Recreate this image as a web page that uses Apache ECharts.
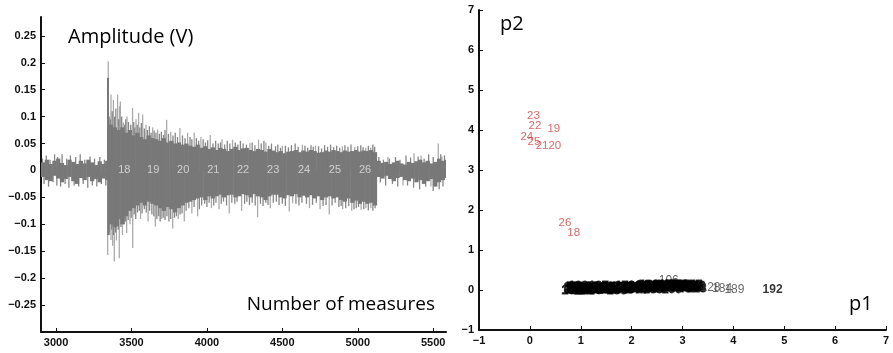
<!DOCTYPE html>
<html><head><meta charset="utf-8">
<script src="https://cdn.jsdelivr.net/npm/echarts@6/dist/echarts.min.js"></script>
<style>html,body{margin:0;padding:0;background:#fff}#c{width:893px;height:353px}</style>
</head><body><div id="c"></div>
<script>
// ---------- Left panel: acoustic signal (envelope per 25-sample bin) ----------
const binStart = 2900;
const binWidth = 25;
const coreHi = [
  0.015,0.020,0.012,0.018,0.022,0.014,0.010,0.020,0.016,0.012,0.018,0.013,0.020,0.015,0.010,0.017,0.012,0.018,
  0.085,0.080,0.075,0.080, 0.070,0.075,0.065,0.070, 0.062,0.058,0.065,0.060, 0.058,0.055,0.060,0.052,
  0.055,0.050,0.052,0.048, 0.050,0.046,0.044,0.048, 0.042,0.045,0.040,0.043, 0.038,0.042,0.040,0.036,
  0.040,0.044,0.038,0.041, 0.042,0.038,0.036,0.040, 0.038,0.035,0.040,0.037, 0.034,0.036,0.032,0.035,
  0.036,0.038,0.034,0.037, 0.035,0.038,0.036,0.033, 0.034,0.037,0.035,0.038, 0.036,0.034,0.037,0.035,
  0.036,0.038,0.035,0.037, 0.036,0.038,0.034,
  0.018,0.014,0.016,0.012,0.015,0.018,0.013,0.011,0.016,0.014,0.017,0.020,0.015,0.018,0.013,0.016,0.022,0.018,0.020
];
const coreLo = [
  -0.012,-0.018,-0.020,-0.010,-0.015,-0.022,-0.016,-0.012,-0.020,-0.025,-0.014,-0.018,-0.012,-0.020,-0.016,-0.022,-0.015,-0.018,
  -0.100,-0.105,-0.090,-0.100, -0.085,-0.075,-0.070,-0.065, -0.060,-0.065,-0.058,-0.062, -0.065,-0.070,-0.075,-0.068,
  -0.072,-0.078,-0.070,-0.065, -0.060,-0.058,-0.055,-0.052, -0.050,-0.055,-0.048,-0.052, -0.048,-0.045,-0.050,-0.046,
  -0.045,-0.050,-0.048,-0.044, -0.046,-0.050,-0.044,-0.048, -0.050,-0.055,-0.048,-0.045, -0.045,-0.050,-0.052,-0.046,
  -0.048,-0.044,-0.050,-0.047, -0.050,-0.046,-0.052,-0.048, -0.055,-0.050,-0.048,-0.052, -0.050,-0.055,-0.058,-0.052,
  -0.060,-0.056,-0.062,-0.058, -0.062,-0.060,-0.065,
  -0.012,-0.015,-0.010,-0.016,-0.020,-0.014,-0.012,-0.018,-0.020,-0.015,-0.022,-0.018,-0.025,-0.020,-0.016,-0.030,-0.022,-0.018,-0.014
];
// short excursions just beyond the envelope
const fringeUp = [
  [2910,0.022],[2935,0.028],[2960,0.020],[2990,0.030],[3010,0.025],[3040,0.030],[3070,0.022],[3095,0.028],[3130,0.025],[3160,0.030],
  [3190,0.020],[3225,0.026],[3255,0.022],[3290,0.025],[3320,0.020],
  [3352,0.100],[3360,0.095],[3372,0.110],[3388,0.100],[3396,0.115],[3415,0.095],[3435,0.100],[3455,0.085],[3462,0.095],[3480,0.090],
  [3495,0.085],[3515,0.090],[3522,0.080],[3538,0.085],[3555,0.080],[3565,0.088],[3585,0.078],[3605,0.075],[3618,0.082],[3630,0.070],
  [3650,0.074],[3662,0.070],[3685,0.068],[3698,0.072],[3712,0.066],[3722,0.075],[3745,0.068],[3775,0.065],[3790,0.070],[3805,0.062],
  [3838,0.065],[3855,0.060],[3888,0.062],[3900,0.058],[3930,0.060],[3945,0.055],[3975,0.058],[3990,0.052],[4005,0.056],[4040,0.050],
  [4058,0.055],[4075,0.050],[4090,0.052],[4118,0.048],[4135,0.055],[4152,0.050],[4188,0.052],[4205,0.048],[4222,0.055],[4240,0.050],
  [4262,0.048],[4300,0.052],[4318,0.047],[4360,0.050],[4378,0.055],[4410,0.046],[4428,0.050],[4455,0.045],[4470,0.048],[4488,0.042],
  [4520,0.046],[4540,0.043],[4560,0.047],[4585,0.050],[4605,0.044],[4650,0.046],[4668,0.042],[4690,0.047],[4705,0.044],[4740,0.045],
  [4760,0.041],[4780,0.047],[4800,0.044],[4820,0.048],[4840,0.043],[4860,0.046],[4880,0.042],[4915,0.047],[4935,0.044],[4955,0.048],
  [5000,0.045],[5020,0.047],[5035,0.043],[5070,0.046],[5100,0.048],[5112,0.044],
  [5140,0.025],[5170,0.020],[5210,0.022],[5250,0.025],[5280,0.020],[5320,0.028],[5350,0.024],[5400,0.026],[5440,0.022],[5470,0.030],
  [5500,0.025],[5550,0.030],[5575,0.028]
];
const fringeDown = [
  [2920,-0.025],[2950,-0.030],[2980,-0.022],[3005,-0.028],[3030,-0.030],[3060,-0.025],[3085,-0.032],[3120,-0.028],[3150,-0.030],[3180,-0.025],
  [3210,-0.032],[3240,-0.028],[3270,-0.030],[3300,-0.025],[3330,-0.028],
  [3352,-0.115],[3368,-0.110],[3380,-0.120],[3395,-0.115],[3412,-0.110],[3430,-0.105],[3452,-0.100],[3460,-0.095],[3478,-0.092],[3498,-0.088],
  [3518,-0.082],[3528,-0.090],[3540,-0.078],[3552,-0.075],[3570,-0.080],[3585,-0.072],[3598,-0.078],[3620,-0.075],[3635,-0.082],[3648,-0.085],
  [3668,-0.090],[3680,-0.085],[3690,-0.095],[3710,-0.088],[3722,-0.092],[3735,-0.085],[3748,-0.095],[3760,-0.090],[3785,-0.088],[3798,-0.085],
  [3822,-0.082],[3835,-0.080],[3862,-0.075],[3880,-0.070],[3915,-0.068],[3950,-0.072],[3965,-0.065],[3985,-0.062],[4000,-0.068],[4015,-0.060],
  [4045,-0.065],[4060,-0.060],[4095,-0.062],[4110,-0.058],[4130,-0.065],[4165,-0.060],[4185,-0.062],[4200,-0.058],[4250,-0.062],[4265,-0.058],
  [4282,-0.064],[4300,-0.060],[4320,-0.065],[4355,-0.062],[4372,-0.066],[4390,-0.060],[4405,-0.064],[4440,-0.060],[4460,-0.058],[4478,-0.064],
  [4500,-0.062],[4520,-0.066],[4590,-0.062],[4610,-0.065],[4630,-0.060],[4660,-0.062],[4700,-0.064],[4725,-0.060],[4770,-0.066],[4790,-0.064],
  [4830,-0.065],[4850,-0.060],[4875,-0.068],[4890,-0.066],[4920,-0.070],[4940,-0.066],[4975,-0.072],[4990,-0.070],[5005,-0.068],[5040,-0.072],
  [5070,-0.074],[5100,-0.075],[5115,-0.070],
  [5150,-0.022],[5185,-0.028],[5230,-0.025],[5265,-0.030],[5330,-0.028],[5370,-0.032],[5410,-0.035],[5450,-0.030],[5500,-0.038],[5540,-0.035],
  [5565,-0.030]
];
// isolated large excursions
const spikeUp = [
  [3346,0.203],[3364,0.141],[3380,0.131],[3408,0.141],[3420,0.119],[3426,0.128],[3446,0.089],[3470,0.100],
  [3507,0.116],[3530,0.095],[3547,0.107],[3574,0.104],[3596,0.085],[3640,0.080],[3673,0.076],[3733,0.094],
  [3760,0.072],[3821,0.079],[3872,0.070],[3916,0.070],[3960,0.062],[4022,0.066],[4100,0.058],[4170,0.057],
  [4285,0.051],[4342,0.057],[4391,0.052],[4500,0.046],[4633,0.048],[4720,0.046],[4898,0.045],[4980,0.044],
  [5053,0.042],[5086,0.042],[5200,0.025],[5373,0.032],[5420,0.028],[5534,0.050],[5558,0.026]
];
const spikeDown = [
  [3342,-0.157],[3356,-0.120],[3364,-0.129],[3375,-0.140],[3386,-0.169],[3400,-0.130],[3419,-0.163],[3440,-0.120],
  [3468,-0.116],[3490,-0.100],[3508,-0.144],[3560,-0.090],[3610,-0.095],[3658,-0.104],[3700,-0.090],[3773,-0.108],
  [3810,-0.090],[3850,-0.095],[3900,-0.080],[3938,-0.085],[4030,-0.070],[4080,-0.072],[4148,-0.080],[4230,-0.075],
  [4336,-0.087],[4420,-0.070],[4546,-0.076],[4568,-0.061],[4680,-0.070],[4750,-0.072],[4811,-0.082],[4900,-0.072],
  [4960,-0.075],[5022,-0.073],[5054,-0.070],[5087,-0.070],[5300,-0.028],[5485,-0.030],[5520,-0.028]
];
const darkSpikes = [[3344,0.172],[3346,-0.120],[3392,-0.106],[3410,-0.104]];
const segmentX = [3452,3644,3843,4042,4240,4439,4644,4849,5048];
const segmentNames = ['18','19','20','21','22','23','24','25','26'];
const leftXTicks = [3000,3500,4000,4500,5000,5500];
const leftYTicks = [-0.25,-0.2,-0.15,-0.1,-0.05,0,0.05,0.1,0.15,0.2,0.25];

// ---------- Right panel: p1 / p2 projection ----------
const redX = [0.07,0.10,0.47,-0.06,0.08,0.24,0.49,0.69,0.86];
const redY = [4.36,4.11,4.02,3.82,3.71,3.61,3.61,1.67,1.44];
const redNames = ['23','22','19','24','25','21','20','26','18'];
const clusterX = [0.78,0.82,0.85,0.88,0.91,0.94,0.97,1.00,1.04,1.07,1.10,1.14,1.18,1.22,1.25,1.29,1.33,1.37,1.41,1.46,
  1.50,1.55,1.59,1.64,1.68,1.73,1.78,1.83,1.87,1.92,1.97,2.02,2.06,2.11,2.16,2.21,2.26,2.30,2.35,2.40,
  2.44,2.49,2.54,2.59,2.63,2.68,2.73,2.77,2.82,2.87,2.92,2.96,3.01,3.06,3.11,3.16,3.21,3.26,3.31,
  0.80,0.95,1.12,1.35,1.52,1.71,1.90,2.08,2.24,2.42,2.57,2.66,2.79,2.90,3.04,3.19,3.28];
const clusterY = [0.02,-0.01,0.05,0.00,0.03,-0.02,0.06,0.01,0.04,-0.01,0.03,0.07,0.00,0.05,0.02,-0.02,0.04,0.06,0.01,0.03,
  0.00,0.05,0.02,0.07,0.03,0.01,0.06,0.04,0.08,0.02,0.05,0.03,0.09,0.04,0.06,0.02,0.08,0.05,0.10,0.03,
  0.07,0.09,0.05,0.10,0.06,0.08,0.10,0.07,0.10,0.05,0.09,0.06,0.10,0.08,0.07,0.09,0.06,0.08,0.07,
  0.07,0.08,-0.02,0.08,0.06,-0.01,0.07,0.00,0.10,0.01,0.03,0.12,0.02,0.11,0.04,0.11,0.03];
const clusterNames = ['1','101','57','143','12','88','164','35','7','120','63','149','2','94','171','40','115','76','158','9',
  '132','48','181','67','15','104','139','53','176','83','30','127','61','168','4','97','145','71','186','38',
  '112','155','79','190','44','160','123','59','174','91','28','136','65','178','86','150','33','118','72',
  '14','109','51','137','82','166','29','147','93','185','56','141','100','172','46','157','113'];
const labelOnTop = {x:[2.73], y:[0.24], names:['106']};
const tailX = [3.55,3.78,4.02,4.77];
const tailY = [0.05,0.04,0.02,0.00];
const tailNames = ['128','184','189','192'];
const rightTicks = [-1,0,1,2,3,4,5,6,7];

const chart = echarts.init(document.getElementById('c'), null, {renderer:'canvas'});
const tickFont = {fontFamily:'Liberation Sans', fontSize:11, fontWeight:'bold', color:'#111'};
const minus = v => (v < 0 ? '\u2212' : '') + String(Math.abs(Math.round(v*100)/100));
const axisLine = {show:true, onZero:false, lineStyle:{color:'#111', width:2}};

function renderBin(params, api){
  const x = api.value(0);
  const a = api.coord([x, api.value(1)]);
  const b = api.coord([x + binWidth, api.value(2)]);
  return {type:'rect', shape:{x:a[0], y:a[1], width:b[0]-a[0]+0.5, height:b[1]-a[1]}, style:{fill:'#787878'}};
}
function makeSpike(color, width){
  return function(params, api){
    const x = api.value(0);
    const a = api.coord([x, 0]);
    const b = api.coord([x, api.value(1)]);
    return {type:'line', shape:{x1:a[0], y1:a[1], x2:b[0], y2:b[1]}, style:{stroke:color, lineWidth:width}};
  };
}
const labelSeries = (xs, ys, names, axisIdx, color, extra) => ({
  type:'scatter', xAxisIndex:axisIdx, yAxisIndex:axisIdx, symbol:'circle', symbolSize:1,
  itemStyle:{color:'rgba(0,0,0,0)'}, silent:true,
  data: xs.map((x,i) => ({value:[x, ys[i]], name:names[i]})),
  label: Object.assign({show:true, position:'inside', formatter:'{b}', color:color, fontSize:11, fontFamily:'Liberation Sans'}, extra||{})
});

chart.setOption({
  animation:false,
  grid:[
    {left:41, top:17, width:405, height:315},
    {left:479, top:10, width:407, height:320}
  ],
  xAxis:[
    {type:'value', gridIndex:0, min:2900, max:5585, axisLine:axisLine, splitLine:{show:false},
     axisTick:{show:true, inside:true, length:4, customValues:leftXTicks, lineStyle:{color:'#111'}},
     axisLabel:Object.assign({customValues:leftXTicks, margin:5, formatter:v => String(v)}, tickFont)},
    {type:'value', gridIndex:1, min:-1, max:7, interval:1, axisLine:axisLine, splitLine:{show:false},
     axisTick:{show:true, inside:true, length:4, customValues:rightTicks, lineStyle:{color:'#111'}},
     axisLabel:Object.assign({margin:5, customValues:rightTicks, formatter:minus}, tickFont)}
  ],
  yAxis:[
    {type:'value', gridIndex:0, min:-0.3, max:0.285, axisLine:axisLine, splitLine:{show:false},
     axisTick:{show:true, inside:true, length:4, customValues:leftYTicks, lineStyle:{color:'#111'}},
     axisLabel:Object.assign({customValues:leftYTicks, margin:5, formatter:minus}, tickFont)},
    {type:'value', gridIndex:1, min:-1, max:7, interval:1, axisLine:axisLine, splitLine:{show:false},
     axisTick:{show:true, inside:true, length:4, customValues:rightTicks, lineStyle:{color:'#111'}},
     axisLabel:Object.assign({margin:5, customValues:rightTicks, formatter:minus}, tickFont)}
  ],
  series:[
    {type:'custom', xAxisIndex:0, yAxisIndex:0, clip:true, silent:true, renderItem:makeSpike('#ababab',1.3), data:spikeUp.concat(spikeDown), z:1},
    {type:'custom', xAxisIndex:0, yAxisIndex:0, clip:true, silent:true, renderItem:makeSpike('#868686',1.3), data:fringeUp.concat(fringeDown), z:2},
    {type:'custom', xAxisIndex:0, yAxisIndex:0, clip:true, silent:true, renderItem:renderBin,
     data: coreHi.map((h,i) => [binStart + i*binWidth, h, coreLo[i]]), z:3},
    {type:'custom', xAxisIndex:0, yAxisIndex:0, clip:true, silent:true, renderItem:makeSpike('#787878',2), data:darkSpikes, z:4},
    Object.assign(labelSeries(segmentX, segmentX.map(()=>0), segmentNames, 0, '#e4e4e4'), {z:5}),
    labelSeries(labelOnTop.x, labelOnTop.y, labelOnTop.names, 1, '#333', {fontSize:12}),
    labelSeries(clusterX, clusterY, clusterNames, 1, '#000', {fontSize:12, fontWeight:'bold', textBorderColor:'#000', textBorderWidth:0.8}),
    labelSeries(tailX.slice(0,3), tailY.slice(0,3), tailNames.slice(0,3), 1, '#444', {fontSize:12}),
    labelSeries(tailX.slice(3), tailY.slice(3), tailNames.slice(3), 1, '#000', {fontSize:12, fontWeight:'bold'}),
    labelSeries(redX, redY, redNames, 1, '#cf4444', {fontSize:11.5})
  ],
  graphic:[
    {type:'text', x:68, y:37, style:{text:'Amplitude (V)', font:'20px "Open Sans"', fill:'#000', verticalAlign:'middle'}},
    {type:'text', x:435, y:305, style:{text:'Number of measures', font:'19px "Open Sans"', fill:'#000', align:'right', verticalAlign:'middle'}},
    {type:'text', x:500, y:24, style:{text:'p2', font:'20px "Open Sans"', fill:'#000', verticalAlign:'middle'}},
    {type:'text', x:849, y:304, style:{text:'p1', font:'20px "Open Sans"', fill:'#000', verticalAlign:'middle'}}
  ]
});
</script></body></html>
